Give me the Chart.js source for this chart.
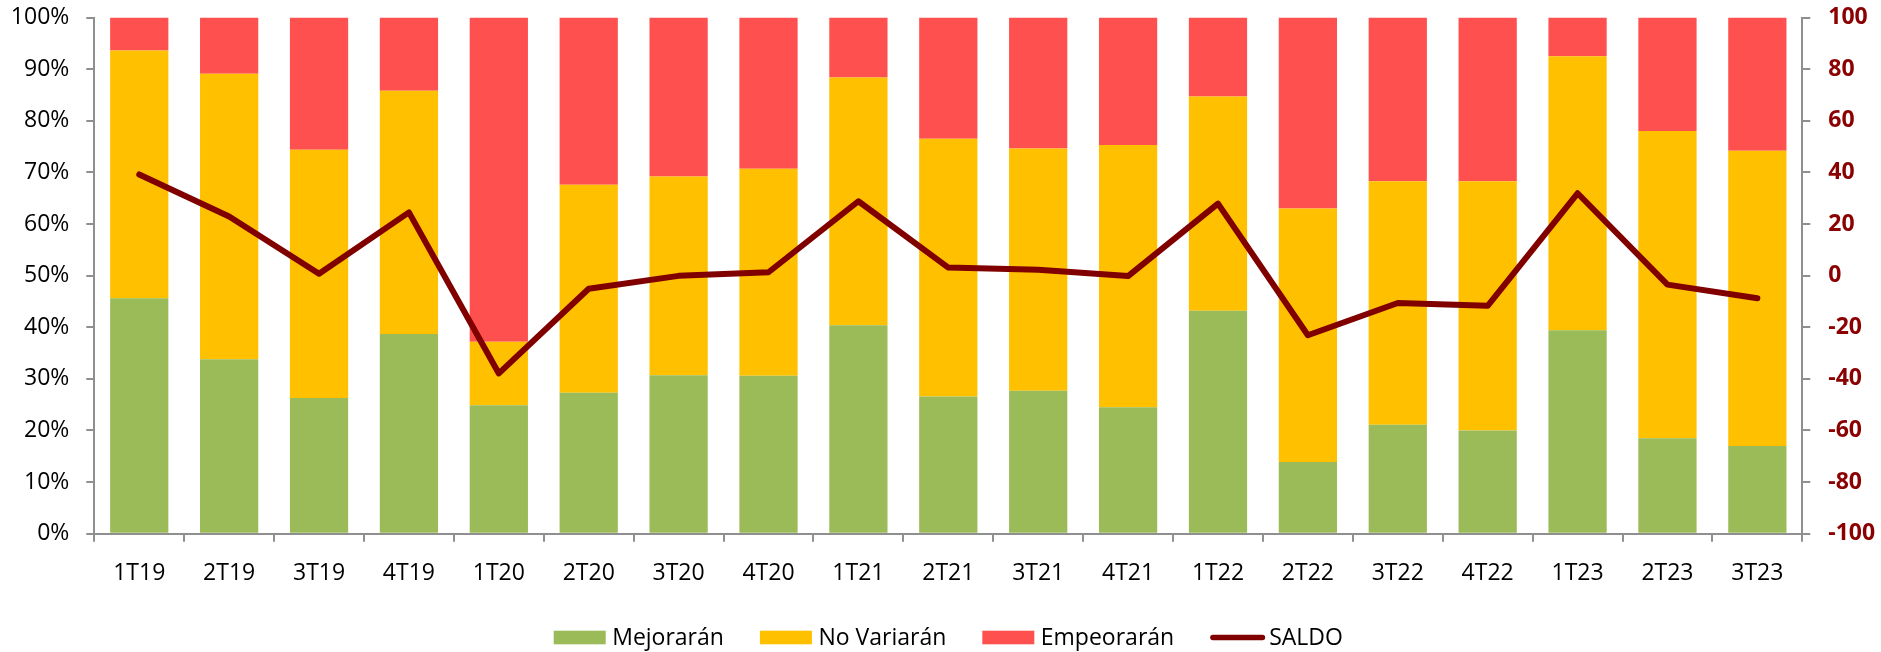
<!DOCTYPE html>
<html>
<head>
<meta charset="utf-8">
<script src="https://cdn.jsdelivr.net/npm/chart.js@4.4.1/dist/chart.umd.min.js"></script>
<style>
html,body{margin:0;padding:0;background:#fff;overflow:hidden}
canvas{display:block}
</style>
</head>
<body>
<canvas id="c" width="1881" height="652"></canvas>
<script>
const categories = ['1T19','2T19','3T19','4T19','1T20','2T20','3T20','4T20','1T21','2T21','3T21','4T21','1T22','2T22','3T22','4T22','1T23','2T23','3T23'];
const mejoraran  = [45.6, 33.8, 26.3, 38.7, 24.9, 27.3, 30.7, 30.6, 40.4, 26.6, 27.7, 24.5, 43.2, 13.9, 21.1, 20.0, 39.4, 18.5, 17.0];
const noVariaran = [48.0, 55.3, 48.1, 47.1, 12.3, 40.3, 38.5, 40.1, 48.0, 49.9, 46.9, 50.8, 41.5, 49.1, 47.2, 48.3, 53.1, 59.5, 57.2];
const empeoraran = [6.4, 10.9, 25.6, 14.2, 62.8, 32.4, 30.8, 29.3, 11.6, 23.5, 25.4, 24.7, 15.3, 37.0, 31.7, 31.7, 7.5, 22.0, 25.8];
const saldo      = [39.2, 22.9, 0.7, 24.5, -37.9, -5.1, -0.1, 1.3, 28.8, 3.1, 2.3, -0.2, 27.9, -23.1, -10.6, -11.7, 31.9, -3.5, -8.8];
const seriesLabels = ['Mejorarán', 'No Variarán', 'Empeorarán', 'SALDO'];

const GREEN = '#9BBB59', YELLOW = '#FFC000', RED = '#FF5050', MAROON = '#800000';
const AXIS = '#8f8f8f';
const FAMILY = '"Open Sans", "Liberation Sans", sans-serif';
const FS = 23;

const customLegend = {
  id: 'customLegend',
  afterDraw(chart) {
    const ctx = chart.ctx, ca = chart.chartArea;
    ctx.save();
    ctx.font = FS + 'px ' + FAMILY;
    const items = chart.data.datasets.map(ds => ({
      label: ds.label,
      isLine: ds.type === 'line',
      color: ds.type === 'line' ? ds.borderColor : ds.backgroundColor
    }));
    const boxW = 52, boxH = 13.6, lineW = 55, gapBoxText = 6.5, gapLineText = 4, gapItems = 36;
    const widths = items.map(it => (it.isLine ? lineW + gapLineText : boxW + gapBoxText) + ctx.measureText(it.label).width);
    const total = widths.reduce((a, b) => a + b, 0) + gapItems * (items.length - 1);
    let x = (ca.left + ca.right) / 2 - total / 2;
    const yMid = chart.height - 14.5;
    const baseline = chart.height - 7.3;
    ctx.textBaseline = 'alphabetic';
    items.forEach((it, i) => {
      if (it.isLine) {
        ctx.strokeStyle = it.color;
        ctx.lineWidth = 5.5;
        ctx.lineCap = 'round';
        ctx.beginPath();
        ctx.moveTo(x + 2.75, yMid);
        ctx.lineTo(x + lineW - 2.75, yMid);
        ctx.stroke();
        ctx.fillStyle = '#000';
        ctx.fillText(it.label, x + lineW + gapLineText, baseline);
      } else {
        ctx.fillStyle = it.color;
        ctx.fillRect(x, yMid - boxH / 2, boxW, boxH);
        ctx.fillStyle = '#000';
        ctx.fillText(it.label, x + boxW + gapBoxText, baseline);
      }
      x += widths[i] + gapItems;
    });
    ctx.restore();
  }
};

function fixY(width) {
  return function (s) {
    s.width = width;
    s.paddingTop = 0;
    s.paddingBottom = 0;
  };
}

function build() {
  const tickFont = { family: FAMILY, size: FS };
  new Chart(document.getElementById('c'), {
    data: {
      labels: categories,
      datasets: [
        { type: 'bar', label: seriesLabels[0], data: mejoraran, backgroundColor: GREEN, yAxisID: 'y', order: 1, barPercentage: 0.648, categoryPercentage: 1 },
        { type: 'bar', label: seriesLabels[1], data: noVariaran, backgroundColor: YELLOW, yAxisID: 'y', order: 1, barPercentage: 0.648, categoryPercentage: 1 },
        { type: 'bar', label: seriesLabels[2], data: empeoraran, backgroundColor: RED, yAxisID: 'y', order: 1, barPercentage: 0.648, categoryPercentage: 1 },
        { type: 'line', label: seriesLabels[3], data: saldo, yAxisID: 'y1', order: 0, borderColor: MAROON, backgroundColor: MAROON, borderWidth: 6, pointRadius: 0, pointHoverRadius: 0, tension: 0, borderCapStyle: 'round', borderJoinStyle: 'round', fill: false }
      ]
    },
    options: {
      responsive: false,
      animation: false,
      devicePixelRatio: 1,
      layout: { padding: { top: 17.5, bottom: 60.3, left: 0, right: 0 } },
      plugins: { legend: { display: false }, tooltip: { enabled: false } },
      scales: {
        x: {
          stacked: true,
          offset: true,
          grid: { offset: true, drawOnChartArea: false, drawTicks: true, tickLength: 8, color: AXIS, lineWidth: 2 },
          border: { display: true, color: AXIS, width: 2 },
          ticks: { font: tickFont, color: '#000', padding: 18, autoSkip: false, maxRotation: 0, minRotation: 0 },
          afterFit(s) { s.height = 58; s.paddingLeft = 0; s.paddingRight = 0; }
        },
        y: {
          stacked: true,
          position: 'left',
          min: 0, max: 100,
          grid: { drawOnChartArea: false, drawTicks: true, tickLength: 8, color: AXIS, lineWidth: 2 },
          border: { display: true, color: AXIS, width: 2 },
          ticks: { stepSize: 10, font: tickFont, color: '#000', padding: 17, callback: v => v + '%' },
          afterFit: fixY(94.3)
        },
        y1: {
          position: 'right',
          min: -100, max: 100,
          grid: { drawOnChartArea: false, drawTicks: true, tickLength: 8, color: AXIS, lineWidth: 2 },
          border: { display: true, color: AXIS, width: 2 },
          ticks: { stepSize: 20, font: { family: FAMILY, size: FS, weight: 'bold' }, color: '#8B0000', padding: 18 },
          afterFit: fixY(78.7)
        }
      }
    },
    plugins: [customLegend]
  });
}

if (document.fonts && document.fonts.load) {
  Promise.all([
    document.fonts.load(FS + 'px "Open Sans"'),
    document.fonts.load('bold ' + FS + 'px "Open Sans"')
  ]).then(build, build);
} else {
  build();
}
</script>
</body>
</html>
